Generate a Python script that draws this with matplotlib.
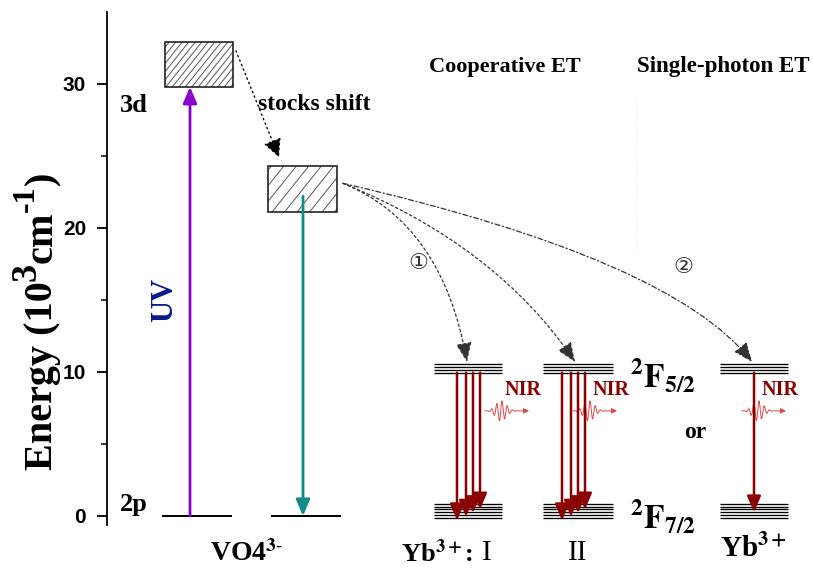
import numpy as np
import matplotlib.pyplot as plt
from matplotlib.patches import Rectangle, FancyArrowPatch

plt.rcParams['font.family'] = ['Liberation Serif', 'DejaVu Sans']
plt.rcParams['mathtext.fontset'] = 'stix'

# level energies, 10^3 cm^-1
vo4_3d = (29.8, 32.9)
vo4_relaxed = (21.1, 24.3)
uv_top = 29.8
emit_top = 22.2
yb_f52 = [9.95, 10.15, 10.35, 10.55]
yb_f72 = [-0.15, 0.05, 0.25, 0.45, 0.65, 0.85]
coop_tips = [-0.3, -0.05, 0.2, 0.45]
single_tips = [0.25]
yticks = [0, 10, 20, 30]
yminor = [5, 15, 25]

# horizontal layout of the columns
box1_x = (165, 233)
box2_x = (268, 337)
ground1_x = (163, 231)
ground2_x = (272, 340)
uv_x = 190
emit_x = 303
yb_cols = {'I': (434, 502), 'II': (543, 613), 'single': (720, 788)}
coop_offsets = {'I': [23, 32, 39, 46], 'II': [19, 28, 35, 42]}
single_offsets = [34]

# y-axis title pieces: text, size, raise (px)
ylabel_parts = [('Energy (10', 29, 0), ('3', 26, 17), ('cm', 29, 0), ('-1', 23, 18), (')', 29, 0)]

PX = 14.4  # pixels per 10^3 cm^-1
W, H = 813, 578

fig = plt.figure(figsize=(W / 100, H / 100), dpi=100)
ax = fig.add_axes([107 / W, (H - 524.6) / H, (W - 107) / W, 512.6 / H])
ax.set_xlim(107, 813)
ax.set_ylim(-0.6, 35)
for s in ['top', 'right', 'bottom']:
    ax.spines[s].set_visible(False)
ax.spines['left'].set_linewidth(1.3)
ax.set_xticks([])
ax.set_yticks(yticks)
ax.set_yticks(yminor, minor=True)
ax.tick_params(axis='y', which='major', length=7, width=1.3, labelsize=15, pad=8)
ax.tick_params(axis='y', which='minor', length=4, width=1.1)
for lab in ax.get_yticklabels():
    lab.set_fontfamily('Liberation Sans')
    lab.set_fontweight('bold')

# rotated axis title built piece by piece so the superscripts stay large
renderer = fig.canvas.get_renderer()
base_x, cur_y = 52, H - 470
for txt, size, lift in ylabel_parts:
    t = fig.text((base_x - lift) / W, cur_y / H, txt, fontsize=size, fontweight='bold',
                 rotation=90, rotation_mode='anchor', ha='left', va='baseline')
    cur_y += t.get_window_extent(renderer).height


def hatched_box(x, y, spacing):
    x0, x1 = x
    y0, y1 = y
    rect = Rectangle((x0, y0), x1 - x0, y1 - y0, fill=False, ec='#222222', lw=1.2, zorder=3)
    ax.add_patch(rect)
    h = (y1 - y0) * PX
    for xs in np.arange(x0 - h, x1, spacing):
        ln, = ax.plot([xs, xs + h * 0.8], [y0, y1], color='#555555', lw=0.7, zorder=2)
        ln.set_clip_path(rect)


hatched_box(box1_x, vo4_3d, 6.5)
hatched_box(box2_x, vo4_relaxed, 12.5)

ax.plot(ground1_x, [0, 0], color='black', lw=1.4)
ax.plot(ground2_x, [0, 0], color='black', lw=1.4)

ax.annotate('', xy=(uv_x, uv_top), xytext=(uv_x, 0),
            arrowprops=dict(arrowstyle='-|>,head_length=0.7,head_width=0.3', color='#8a00cc', lw=2,
                            shrinkA=0, shrinkB=0, mutation_scale=14))
ax.annotate('', xy=(emit_x, 0), xytext=(emit_x, emit_top),
            arrowprops=dict(arrowstyle='-|>,head_length=0.7,head_width=0.3', color='#118a8a', lw=2,
                            shrinkA=0, shrinkB=0, mutation_scale=14))
ax.text(165, 15, 'UV', rotation=90, color='#0b1a8c', fontsize=22, fontweight='bold',
        ha='center', va='center')
ax.text(120, 29.3, '3d', fontsize=19, fontweight='bold', ha='left', va='top')
ax.text(120, 0.0, '2p', fontsize=19, fontweight='bold', ha='left', va='bottom')

# stokes shift
ax.annotate('', xy=(279, 24.9), xytext=(236, 32.3),
            arrowprops=dict(arrowstyle='-|>,head_length=0.8,head_width=0.4', color='black', lw=1,
                            linestyle=(0, (1, 2.5)), shrinkA=0, shrinkB=0, mutation_scale=14))
ax.text(258, 28.6, 'stocks shift', fontsize=17, fontweight='bold', ha='left', va='center')

ax.text(505, 31.2, 'Cooperative ET', fontsize=16, fontweight='bold', ha='center', va='center')
ax.text(723, 31.2, 'Single-photon ET', fontsize=16.5, fontweight='bold', ha='center', va='center')
ax.plot([636, 636], [29.0, 18.5], color='#eeeeee', lw=0.8, ls=':')

# Yb3+ levels
for key, (x0, x1) in yb_cols.items():
    for yy in yb_f52 + yb_f72:
        ax.plot([x0, x1], [yy, yy], color='black', lw=0.95, solid_capstyle='butt')

red = '#8b0000'
for key in ['I', 'II']:
    x0 = yb_cols[key][0]
    for off, tip in zip(coop_offsets[key], coop_tips):
        ax.annotate('', xy=(x0 + off, tip), xytext=(x0 + off, yb_f52[0]),
                    arrowprops=dict(arrowstyle='-|>,head_length=0.75,head_width=0.32', color=red,
                                    lw=1.8, shrinkA=0, shrinkB=0, mutation_scale=13))
x0 = yb_cols['single'][0]
for off, tip in zip(single_offsets, single_tips):
    ax.annotate('', xy=(x0 + off, tip), xytext=(x0 + off, yb_f52[0]),
                arrowprops=dict(arrowstyle='-|>,head_length=0.75,head_width=0.32', color=red,
                                lw=1.8, shrinkA=0, shrinkB=0, mutation_scale=13))

# NIR labels and photon wave packets
nir_x = [505, 593, 762]
for xn in nir_x:
    ax.text(xn, 8.75, 'NIR', color=red, fontsize=14.5, fontweight='bold', ha='left', va='center')
    t = np.linspace(0, 38, 300)
    wave = 0.7 * np.exp(-((t - 16) / 7.5) ** 2) * np.sin(t * 1.2)
    ax.plot(xn - 20 + t, 7.3 + wave, color='#e04848', lw=0.7)
    ax.annotate('', xy=(xn + 24, 7.3), xytext=(xn + 18, 7.3),
                arrowprops=dict(arrowstyle='-|>,head_length=0.4,head_width=0.2', color='#e04848',
                                lw=0.7, shrinkA=0, shrinkB=0, mutation_scale=8))

ax.text(695, 5.8, 'or', fontsize=17, fontweight='bold', ha='center', va='center')
ax.text(630, 9.8, r'$\mathbf{^{2}F_{5/2}}$', fontsize=24, ha='left', va='center')
ax.text(630, 0.0, r'$\mathbf{^{2}F_{7/2}}$', fontsize=24, ha='left', va='center')

# energy-transfer paths
start = (343, 23.1)
targets = [(467, 10.7), (575, 10.7), (752, 10.7)]
angles = [(-22, -80), (-22, -56), (-13, -52)]
styles = [(0, (2, 2.2)), (0, (2, 2.2)), (0, (4, 2, 1, 2))]
for (tx, ty), (a1, a2), ls in zip(targets, angles, styles):
    arr = FancyArrowPatch(start, (tx, ty), connectionstyle=f'angle3,angleA={a1},angleB={a2}',
                          arrowstyle='-|>,head_length=0.85,head_width=0.35', mutation_scale=14,
                          color='#333333', lw=0.9, linestyle=ls, shrinkA=0, shrinkB=0)
    ax.add_patch(arr)
ax.text(418, 17.6, '①', fontsize=16, ha='center', va='center',
        family=['DejaVu Sans', 'Noto Sans CJK SC'], color='#333333')
ax.text(683, 17.3, '②', fontsize=16, ha='center', va='center',
        family=['DejaVu Sans', 'Noto Sans CJK SC'], color='#333333')

# species labels under the diagram
lab_y = -2.6
ax.text(210, lab_y, r'VO4$^{\mathbf{3}\text{-}}$', fontsize=20, fontweight='bold', ha='left',
        va='center', clip_on=False)
ax.text(401, lab_y, r'Yb$^{\mathbf{3+}}$:', fontsize=19, fontweight='bold', ha='left', va='center',
        clip_on=False)
ax.text(487, lab_y, 'I', fontsize=21, ha='center', va='center', clip_on=False)
ax.text(578, lab_y, 'II', fontsize=21, ha='center', va='center', clip_on=False)
ax.text(720, lab_y + 0.3, r'Yb$^{\mathbf{3+}}$', fontsize=21, fontweight='bold', ha='left',
        va='center', clip_on=False)

fig.savefig('out.png', dpi=100)
